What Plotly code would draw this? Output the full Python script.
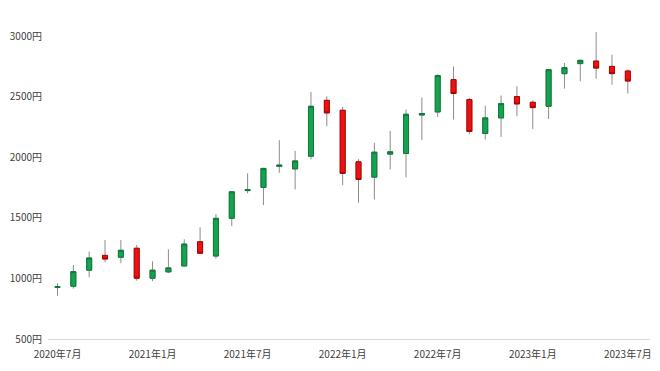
import plotly.graph_objects as go

months = ["2020-07", "2020-08", "2020-09", "2020-10", "2020-11", "2020-12",
          "2021-01", "2021-02", "2021-03", "2021-04", "2021-05", "2021-06",
          "2021-07", "2021-08", "2021-09", "2021-10", "2021-11", "2021-12",
          "2022-01", "2022-02", "2022-03", "2022-04", "2022-05", "2022-06",
          "2022-07", "2022-08", "2022-09", "2022-10", "2022-11", "2022-12",
          "2023-01", "2023-02", "2023-03", "2023-04", "2023-05", "2023-06",
          "2023-07"]
open_ = [925, 936, 1068, 1190, 1175, 1249, 1002, 1054, 1103, 1303, 1185, 1496,
         1725, 1751, 1925, 1904, 2009, 2470, 2388, 1962, 1836, 2026, 2031, 2349,
         2374, 2641, 2476, 2196, 2325, 2501, 2454, 2421, 2690, 2773, 2794, 2750,
         2712]
high = [960, 1111, 1221, 1317, 1317, 1276, 1142, 1241, 1323, 1422, 1531, 1720,
        1867, 1912, 2141, 2053, 2539, 2503, 2415, 1984, 2119, 2217, 2394, 2493,
        2685, 2750, 2489, 2427, 2509, 2586, 2470, 2727, 2778, 2808, 3033, 2847,
        2726]
low = [858, 916, 1010, 1133, 1125, 982, 977, 1043, 1098, 1205, 1163, 1432,
       1702, 1605, 1872, 1735, 1982, 2256, 1770, 1624, 1652, 1900, 1834, 2141,
       2333, 2311, 2190, 2147, 2168, 2339, 2234, 2316, 2567, 2627, 2649, 2600,
       2526]
close = [932, 1056, 1169, 1160, 1232, 1002, 1068, 1087, 1284, 1208, 1496, 1715,
         1732, 1908, 1935, 1970, 2421, 2366, 1867, 1817, 2042, 2045, 2355, 2361,
         2674, 2526, 2213, 2325, 2443, 2440, 2410, 2723, 2740, 2800, 2736, 2690,
         2629]

tick_months = ["2020-07", "2021-01", "2021-07", "2022-01", "2022-07", "2023-01", "2023-07"]
tick_labels = ["2020年7月", "2021年1月", "2021年7月", "2022年1月", "2022年7月", "2023年1月", "2023年7月"]
y_ticks = [500, 1000, 1500, 2000, 2500, 3000]
y_labels = [f"{v}円" for v in y_ticks]

GREEN = "#16a34f"
GREEN_D = "#0d7a3a"
RED = "#ee1111"
RED_D = "#b00000"
WICK = "#8c8c8c"

body_hi = [max(o, c) for o, c in zip(open_, close)]
body_lo = [min(o, c) for o, c in zip(open_, close)]

fig = go.Figure()
fig.add_trace(go.Candlestick(
    x=months, open=open_, high=high, low=low, close=close,
    increasing=dict(line=dict(color=WICK, width=1), fillcolor=GREEN),
    decreasing=dict(line=dict(color=WICK, width=1), fillcolor=RED),
    whiskerwidth=0, showlegend=False, hoverinfo="skip",
))
fig.add_trace(go.Candlestick(
    x=months, open=open_, high=body_hi, low=body_lo, close=close,
    increasing=dict(line=dict(color=GREEN_D, width=1), fillcolor=GREEN),
    decreasing=dict(line=dict(color=RED_D, width=1), fillcolor=RED),
    whiskerwidth=0, showlegend=False,
))

# page body has an 8px default margin; compensate so plot area matches the reference
fig.update_layout(
    width=652, height=363,
    margin=dict(l=40, r=10, t=16, b=32),
    paper_bgcolor="white", plot_bgcolor="white",
    boxgap=0.55, boxmode="overlay",
    font=dict(family="Noto Sans CJK JP", size=10, color="#404040"),
    xaxis=dict(
        type="category", categoryorder="array", categoryarray=months,
        range=[-0.6, 37.4], automargin=False,
        tickmode="array", tickvals=tick_months, ticktext=tick_labels,
        showgrid=False, zeroline=False, ticks="",
        showline=True, linecolor="#d9d9d9", linewidth=1,
        rangeslider=dict(visible=False), ticklabelstandoff=6,
    ),
    yaxis=dict(
        range=[500, 3100], tickmode="array", tickvals=y_ticks, ticktext=y_labels,
        showgrid=False, zeroline=False, ticks="", showline=False,
        ticklabelstandoff=5, automargin=False,
    ),
)

fig.write_html("out.html")
